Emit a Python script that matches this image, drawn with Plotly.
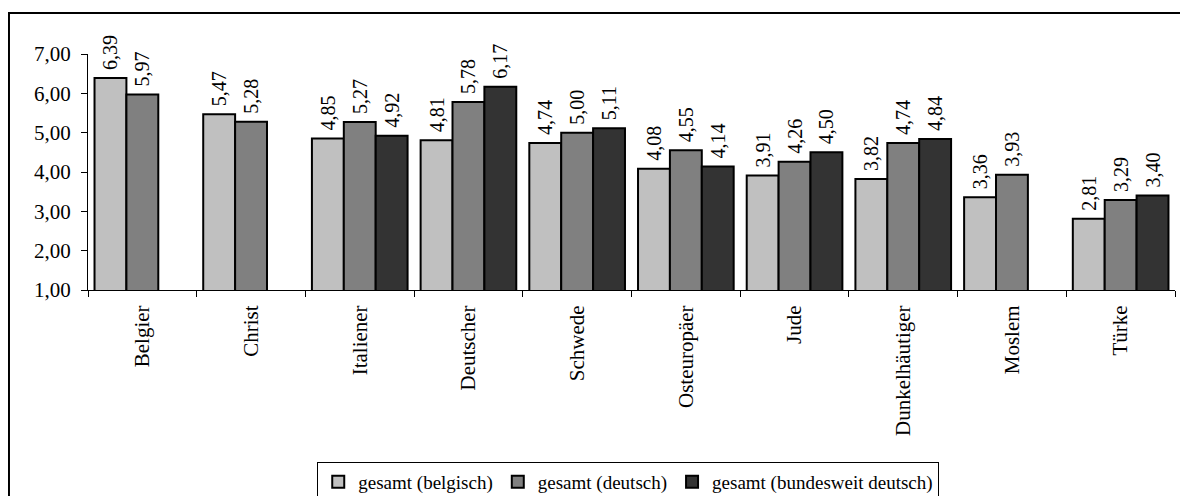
import plotly.graph_objects as go

categories = ["Belgier", "Christ", "Italiener", "Deutscher", "Schwede",
              "Osteuropäer", "Jude", "Dunkelhäutiger", "Moslem", "Türke"]
belgisch = [6.39, 5.47, 4.85, 4.81, 4.74, 4.08, 3.91, 3.82, 3.36, 2.81]
deutsch = [5.97, 5.28, 5.27, 5.78, 5.00, 4.55, 4.26, 4.74, 3.93, 3.29]
bundesweit = [None, None, 4.92, 6.17, 5.11, 4.14, 4.50, 4.84, None, 3.40]
series_names = ["gesamt (belgisch)", "gesamt (deutsch)", "gesamt (bundesweit deutsch)"]
colors = ["#C0C0C0", "#808080", "#333333"]
yticks = [1, 2, 3, 4, 5, 6, 7]

FONT = "Liberation Serif"

fig = go.Figure()
for name, vals, col in zip(series_names, [belgisch, deutsch, bundesweit], colors):
    fig.add_trace(go.Bar(
        x=categories, y=vals, name=name,
        marker=dict(color=col, line=dict(color="#000000", width=2)),
        texttemplate="\u00a0%{y:.2f}", textposition="outside", textangle=-90,
        constraintext="none",
        textfont=dict(family=FONT, size=20, color="#000000"),
        cliponaxis=False,
    ))

fig.update_layout(
    width=1180, height=488,
    margin=dict(l=80, r=13, t=46, b=206, autoexpand=False),
    paper_bgcolor="white", plot_bgcolor="white",
    barmode="group", bargap=0.12, bargroupgap=0,
    separators=", ",
    font=dict(family=FONT, size=20, color="#000000"),
    showlegend=True,
    legend=dict(orientation="h", x=0.497, xanchor="center", y=-0.728, yanchor="top",
                bordercolor="#000000", borderwidth=1,
                font=dict(family=FONT, size=19, color="#000000"),
                itemwidth=30, tracegroupgap=0),
    shapes=[dict(type="rect", xref="paper", yref="paper",
                 x0=-0.0727, x1=1.03, y0=-1.2, y1=1.174,
                 line=dict(color="#000000", width=2), layer="below")],
)
fig.update_xaxes(type="category", showline=True, linecolor="#000000", linewidth=1,
                 ticks="outside", ticklen=6, tickcolor="#000000", tickson="boundaries",
                 tickangle=-90, showgrid=False, zeroline=False, automargin=False,
                 ticklabelstandoff=6,
                 tickfont=dict(family=FONT, size=21))
fig.update_yaxes(range=[1, 7], tickvals=yticks, tickformat=".2f",
                 showline=True, linecolor="#000000", linewidth=1,
                 ticks="outside", ticklen=6, tickcolor="#000000",
                 showgrid=False, zeroline=False, automargin=False,
                 ticklabelstandoff=6,
                 tickfont=dict(family=FONT, size=21))

fig.write_html("out.html")
